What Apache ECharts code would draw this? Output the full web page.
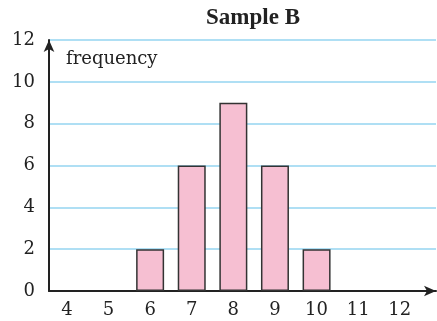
<!DOCTYPE html>
<html>
<head>
<meta charset="utf-8">
<script src="https://cdn.jsdelivr.net/npm/echarts@6/dist/echarts.min.js"></script>
<style>
    html, body { margin: 0; padding: 0; background: #fff; }
    #main { width: 437px; height: 321px; }
</style>
</head>
<body>
<div id="main"></div>
<script>
// 数据
var scores = [6, 7, 8, 9, 10];
var frequency = [2, 6, 9, 6, 2];
var xTicks = [4, 5, 6, 7, 8, 9, 10, 11, 12];

var serif = 'DejaVu Serif';

function initSampleChart() {
    var chart = echarts.init(document.getElementById('main'));
    var barData = scores.map(function (s, i) { return [s, frequency[i]]; });

    var option = {
        animation: false,
        title: [{
            text: 'Sample B',
            left: 248,
            top: 2,
            textAlign: 'center',
            textStyle: { fontFamily: 'Liberation Serif', fontWeight: 'bold', fontSize: 23, color: '#222' }
        }, {
            text: 'frequency',
            left: 61,
            top: 45,
            textStyle: { fontFamily: serif, fontWeight: 'normal', fontSize: 18, color: '#222' }
        }],
        grid: { left: 49, right: 1, top: 40, bottom: 30 },
        xAxis: {
            type: 'value',
            min: 3.57,
            max: 12.87,
            splitLine: { show: false },
            axisTick: { show: false },
            axisLine: {
                show: true,
                symbol: ['none', 'arrow'],
                symbolSize: [8, 12],
                lineStyle: { color: '#222', width: 2 }
            },
            axisLabel: {
                customValues: xTicks,
                margin: 10,
                fontFamily: serif,
                fontSize: 18,
                color: '#222'
            }
        },
        yAxis: {
            type: 'value',
            min: 0,
            max: 12,
            interval: 2,
            axisTick: { show: false },
            axisLine: {
                show: true,
                symbol: ['none', 'arrow'],
                symbolSize: [8, 12],
                lineStyle: { color: '#222', width: 2 }
            },
            splitLine: { lineStyle: { color: '#95d5f0', width: 1.5 } },
            axisLabel: {
                margin: 14,
                fontFamily: serif,
                fontSize: 18,
                color: '#222'
            }
        },
        series: [{
            type: 'bar',
            data: barData,
            barWidth: 28,
            itemStyle: { color: '#f6bfd2', borderColor: '#333', borderWidth: 1.5 }
        }]
    };
    chart.setOption(option);
}

initSampleChart();
</script>
</body>
</html>
